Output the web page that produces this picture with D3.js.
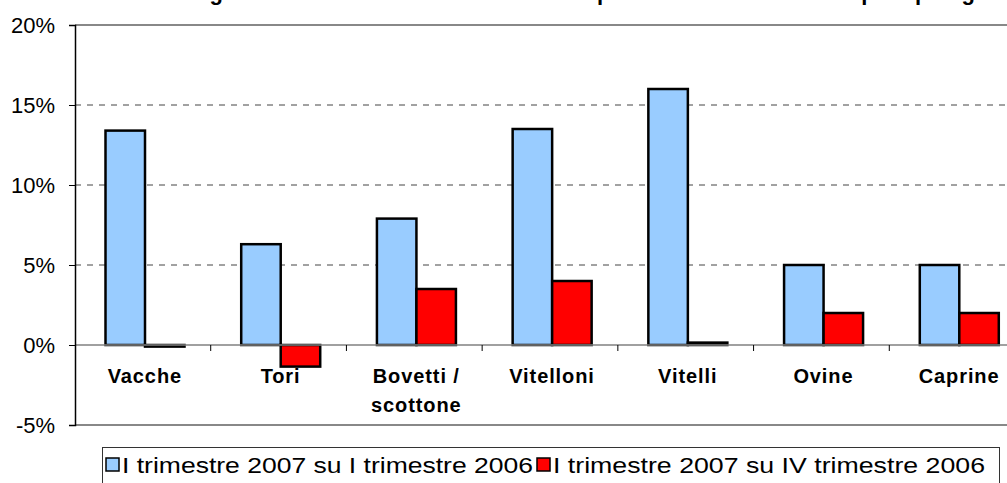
<!doctype html>
<html>
<head>
<meta charset="utf-8">
<title>Macellazioni per tipologia</title>
<script src="https://cdn.jsdelivr.net/npm/d3@7/dist/d3.min.js"></script>
<style>
  body { margin: 0; background: #fff; }
  svg { display: block; font-family: Arial, "Liberation Sans", sans-serif; }
</style>
</head>
<body>
<script>
// DATA
var categories = ["Vacche", "Tori", "Bovetti / scottone", "Vitelloni", "Vitelli", "Ovine", "Caprine"];
var seriesNames = ["I trimestre 2007 su I trimestre 2006", "I trimestre 2007 su IV trimestre 2006"];
var annual = [13.4, 6.3, 7.9, 13.5, 16.0, 5.0, 5.0];
var quarterly = [-0.1, -1.35, 3.5, 4.0, 0.15, 2.0, 2.0];
var yTicks = [-5, 0, 5, 10, 15, 20];
var colors = ["#99CCFF", "#FF0000"];

var w = 1007, h = 483;
var mLeft = 75, mRight = 1025, mTop = 25, mBottom = 425;

var svg = d3.select("body").append("svg").attr("width", w).attr("height", h);

// SCALES
var x = d3.scaleBand().domain(categories).range([mLeft, mRight]);
var xs = d3.scaleBand().domain([0, 1]).range([30.5, 109.5]);
var y = d3.scaleLinear().domain([-5, 20]).range([mBottom, mTop]);

// title (cut off at the top of the image)
svg.append("text")
  .attr("x", 190).attr("y", 0)
  .attr("font-size", "22px").attr("font-weight", "bold")
  .text("Figura 1 - Variazione del numero dei capi macellati nel trimestre per tipologia di animale");

// GRID
svg.selectAll(".grid")
  .data(yTicks.filter(function(d){ return d > 0 && d < 20; }))
  .enter().append("line")
  .attr("x1", mLeft).attr("x2", w)
  .attr("y1", function(d){ return y(d); })
  .attr("y2", function(d){ return y(d); })
  .attr("stroke", "#444").attr("stroke-width", 1)
  .attr("stroke-dasharray", "6,6");

// plot area border top/bottom
svg.append("line").attr("x1", mLeft).attr("x2", w).attr("y1", y(20)).attr("y2", y(20))
  .attr("stroke", "#888").attr("stroke-width", 2);
svg.append("line").attr("x1", mLeft).attr("x2", w).attr("y1", y(-5)).attr("y2", y(-5))
  .attr("stroke", "#888").attr("stroke-width", 2);

// BARS
var rows = categories.map(function(c, i){ return {cat: c, vals: [annual[i], quarterly[i]]}; });
var groups = svg.selectAll(".grp").data(rows).enter().append("g")
  .attr("transform", function(d){ return "translate(" + x(d.cat) + ",0)"; });
groups.selectAll("rect")
  .data(function(d){ return d.vals.map(function(v, k){ return {k: k, v: v}; }); })
  .enter().append("rect")
  .attr("x", function(d){ return xs(d.k); })
  .attr("width", xs.bandwidth())
  .attr("y", function(d){ return y(Math.max(0, d.v)); })
  .attr("height", function(d){ return Math.abs(y(d.v) - y(0)); })
  .attr("fill", function(d){ return colors[d.k]; })
  .attr("stroke", "#000").attr("stroke-width", 2.5);

// zero line
svg.append("line").attr("x1", mLeft).attr("x2", w).attr("y1", y(0)).attr("y2", y(0))
  .attr("stroke", "#808080").attr("stroke-width", 1.5);

// x ticks
svg.selectAll(".xt").data(categories.slice(1)).enter().append("line")
  .attr("x1", function(d){ return x(d); }).attr("x2", function(d){ return x(d); })
  .attr("y1", y(0)).attr("y2", y(0) + 6)
  .attr("stroke", "#000").attr("stroke-width", 1);

// Y AXIS
var yAxis = d3.axisLeft(y).tickValues(yTicks).tickSize(6).tickPadding(14)
  .tickFormat(function(d){ return d + "%"; });
var ga = svg.append("g").attr("transform", "translate(" + mLeft + ",0)").call(yAxis);
ga.select(".domain").attr("stroke", "#000").attr("stroke-width", 1.5);
ga.selectAll(".tick line").attr("stroke", "#000");
ga.selectAll(".tick text").attr("font-size", "22px").attr("fill", "#000")
  .attr("font-family", "Arial, 'Liberation Sans', sans-serif");

// category labels
var lab = svg.selectAll(".lab").data(categories).enter().append("text")
  .attr("text-anchor", "middle")
  .attr("font-size", "20px").attr("font-weight", "bold")
  .attr("letter-spacing", "0.9px");
lab.each(function(d){
  var t = d3.select(this);
  var parts = d.indexOf("/") > 0 ? ["Bovetti /", "scottone"] : [d];
  parts.forEach(function(p, i){
    t.append("tspan").attr("x", x(d) + x.bandwidth() / 2 + 2).attr("y", 383 + i * 29).text(p);
  });
});

// LEGEND
svg.append("rect").attr("x", 102.5).attr("y", 447.5).attr("width", 897).attr("height", 60)
  .attr("fill", "#fff").attr("stroke", "#333").attr("stroke-width", 1);
var legX = [106, 537];
var legW = [411, 432];
seriesNames.forEach(function(n, i){
  svg.append("rect").attr("x", legX[i]).attr("y", 458).attr("width", 13).attr("height", 13)
    .attr("fill", colors[i]).attr("stroke", "#000").attr("stroke-width", 1.5);
  svg.append("text").attr("x", legX[i] + 16).attr("y", 473)
    .attr("font-size", "22px")
    .attr("textLength", legW[i]).attr("lengthAdjust", "spacingAndGlyphs")
    .text(n);
});
</script>
</body>
</html>
